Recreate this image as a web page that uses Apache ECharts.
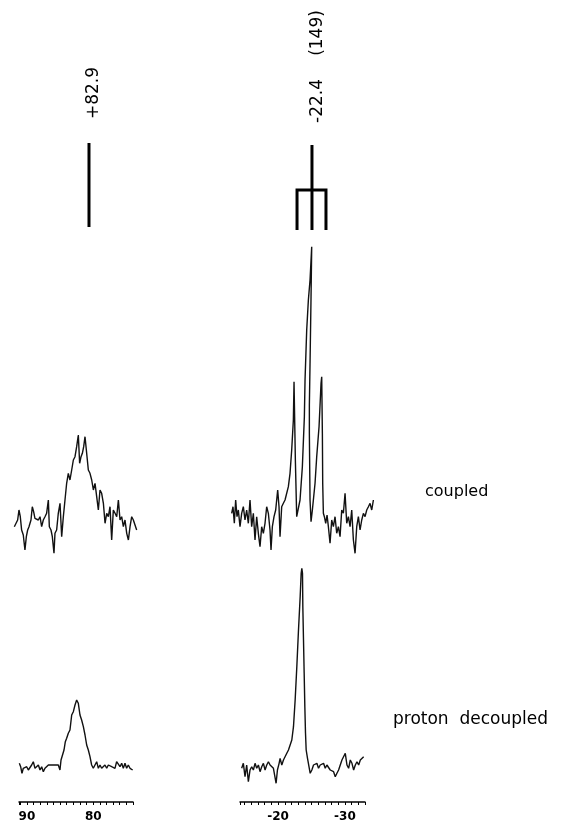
<!DOCTYPE html>
<html>
<head>
<meta charset="utf-8">
<script src="https://cdn.jsdelivr.net/npm/echarts@6/dist/echarts.min.js"></script>
<style>
html,body{margin:0;padding:0;background:#fff;}
#chart{width:562px;height:823px;}
</style>
</head>
<body>
<div id="chart"></div>
<script>
// ---- data (ppm, relative intensity) ----
var coupledLeftPpm = [91.90,91.70,91.40,91.20,91.00,90.80,90.55,90.30,90.09,89.89,89.69,89.39,89.19,88.99,88.79,88.53,88.28,88.03,87.78,87.53,87.28,87.03,86.77,86.62,86.37,86.17,85.92,85.77,85.52,85.27,85.01,84.76,84.51,84.26,84.01,83.76,83.51,83.25,83.00,82.75,82.50,82.25,82.05,81.84,81.64,81.44,81.24,80.99,80.74,80.49,80.23,79.98,79.73,79.48,79.23,78.98,78.73,78.47,78.22,77.97,77.72,77.47,77.22,76.97,76.71,76.46,76.21,75.96,75.71,75.46,75.21,74.95,74.70,74.45,74.20,73.95,73.70,73.45];
var coupledLeftInt = [-1.7,0,5,15,8.3,-5,-10,-25,-11.7,-5,-1.7,5,18.3,13.3,6.7,8.3,5,8.3,-1.7,5,8.3,11.7,25,-1.7,-5,-11.7,-28.3,-8.3,-5,11.7,21.7,-11.7,8.3,25,41.7,51.7,45,55,65,68.3,78.3,90,61.7,68.3,71.7,78.3,88.3,71.7,55,51.7,45,35,41.7,28.3,15,35,31.7,21.7,1.7,11.7,8.3,18.3,-15,15,11.7,8.3,25,5,8.3,-1.7,5,-8.3,-15,-1.7,8.3,5,5,-5];

var coupledRightPpm = [-13.05,-13.25,-13.45,-13.65,-13.85,-14.05,-14.30,-14.55,-14.80,-15.05,-15.30,-15.55,-15.80,-16.05,-16.30,-16.55,-16.80,-17.05,-17.30,-17.55,-17.80,-18.05,-18.30,-18.55,-18.80,-18.95,-19.15,-19.40,-19.65,-19.95,-20.15,-20.30,-20.55,-20.80,-21.05,-21.30,-21.55,-21.80,-22.05,-22.30,-22.40,-22.60,-22.80,-23.30,-23.65,-23.95,-24.05,-24.30,-24.55,-24.80,-25.05,-24.95,-24.80,-24.70,-24.70,-24.80,-24.95,-25.15,-25.30,-25.55,-25.80,-26.15,-26.45,-26.55,-26.65,-26.70,-26.80,-26.95,-27.15,-27.35,-27.55,-27.80,-28.05,-28.30,-28.55,-28.80,-29.05,-29.30,-29.55,-29.80,-30.05,-30.30,-30.55,-30.80,-31.05,-31.30,-31.55,-31.80,-32.05,-32.30,-32.55,-32.80,-33.05,-33.30,-33.55,-33.80,-34.05,-34.30];
var coupledRightInt = [6.7,13.3,-3.3,20,3.3,10,-6.7,6.7,13.3,0,10,-3.3,20,-6.7,6.7,-20,3.3,-13.3,-26.7,-6.7,-13.3,-3.3,13.3,6.7,-10,-30,-6.7,3.3,10,30,13.3,-16.7,13.3,16.7,20,21.7,33.3,46.7,70,100,138.3,60,3.3,20,53.3,103.3,140,190,220,240,273.3,223.3,156.7,115,86.7,20,-1.7,10,20,36.7,63.3,93.3,136.7,143.3,86.7,36.7,6.7,3.3,-3.3,5,-6.7,-23.3,0,-6.7,3.3,-13.3,-6.7,-16.7,10,6.7,26.7,-3.3,3.3,-6.7,10,-20,-33.3,-6.7,3.3,-10,0,6.7,3.3,10,13.3,16.7,10,20];

var decoupledLeftPpm = [91.15,90.95,90.75,90.55,90.30,90.04,89.79,89.54,89.29,89.04,88.79,88.53,88.28,88.03,87.78,87.53,87.28,87.03,86.77,86.52,86.27,86.02,85.77,85.52,85.27,85.02,84.86,84.66,84.41,84.21,84.01,83.76,83.51,83.25,83.00,82.75,82.50,82.25,82.00,81.75,81.49,81.24,80.99,80.74,80.49,80.24,79.99,79.74,79.48,79.23,78.98,78.73,78.48,78.23,77.97,77.72,77.47,77.22,76.97,76.72,76.47,76.21,75.96,75.71,75.46,75.21,74.96,74.71,74.45,74.20,74.05];
var decoupledLeftInt = [3.7,0.3,-6.3,-1.3,-3,0.3,-3,-1.3,2,5.3,-1.3,0.3,2,-3,0.3,-4.7,-1.3,0.3,2,0.3,2,0.3,2,0.3,2,-3,7,7,17,25.3,28.7,33.7,37,52,55.3,62,67,63.7,52,47,40.3,32,22,17,10.3,2,-1.3,0.3,5.3,-1.3,2,-1.3,0.3,2,-1.3,2,3.7,0.3,2,-1.3,5.3,7,0.3,3.7,-1.3,3.7,-1.3,2,-1.3,0.3,-3];

var decoupledRightPpm = [-14.55,-14.80,-15.05,-15.30,-15.55,-15.80,-16.05,-16.30,-16.55,-16.80,-17.05,-17.30,-17.55,-17.80,-18.05,-18.30,-18.55,-18.80,-19.05,-19.30,-19.55,-19.70,-19.90,-20.15,-20.30,-20.55,-20.80,-21.05,-21.30,-21.55,-21.80,-22.05,-22.30,-22.55,-22.80,-23.05,-23.30,-23.45,-23.55,-23.65,-23.70,-23.80,-23.90,-24.00,-24.10,-24.20,-24.40,-24.60,-24.80,-25.05,-25.30,-25.55,-25.80,-26.05,-26.30,-26.55,-26.80,-27.05,-27.30,-27.55,-27.80,-28.05,-28.30,-28.55,-28.80,-29.05,-29.30,-29.55,-29.80,-30.05,-30.30,-30.55,-30.80,-31.05,-31.30,-31.55,-31.80,-32.05,-32.30,-32.55,-32.80];
var decoupledRightInt = [-1.3,3.7,-9.7,2,-14.7,-3,0.3,-3,3.7,-1.3,2,-4.7,0.3,3.7,-3,2,5.3,2,3.7,-1.3,-3,-16.3,-3,3.7,8.7,2,7,8.7,13.7,17,18.7,27,40.3,67,100.3,137,170.3,193.7,198.7,193.7,160.3,127,93.7,60.3,33.7,17,8.7,7,-6.3,-3,2,0.3,3.7,-1.3,2,0.3,3.7,-1.3,2,0.3,-3,-1.3,-4.7,-9.7,-6.3,-3,2,7,5.3,13.7,2,-1.3,7,3.7,-3,2,5.3,2,7,5.3,10.3];

// stick diagrams (ppm positions, intensity span)
var singletPpm = 80.64;
var singletSpan = [298, 382];
var quartetStemPpm = -25.09;
var quartetStemSpan = [290, 375];
var quartetOuterPpm = [-22.85, -27.19];
var quartetBar = 330;
var quartetFoot = 290;

// axis tick labels
var leftTickLabels = [90, 80];
var rightTickLabels = [-20, -30];

function zip(xs, ys){ return xs.map(function(x,i){ return [x, ys[i]]; }); }

var chart = echarts.init(document.getElementById('chart'), null, {renderer:'canvas'});
var FONT = '"DejaVu Sans", "Liberation Sans", Arial, sans-serif';

function hiddenX(idx, min, max){
  return {gridIndex: idx, type:'value', min:min, max:max, inverse:true, show:false};
}
function hiddenY(idx, min, max){
  return {gridIndex: idx, type:'value', min:min, max:max, show:false};
}
function shownX(idx, min, max, labels){
  return {gridIndex: idx, type:'value', min:min, max:max, inverse:true, interval:1,
    axisLine:{show:true, onZero:false, lineStyle:{color:'#000', width:1.5}},
    axisTick:{show:true, length:3, lineStyle:{color:'#000', width:1}},
    splitLine:{show:false},
    axisLabel:{show:true, margin:9, color:'#000', fontSize:12, fontWeight:'bold', fontFamily:FONT,
      formatter:function(v){ return labels.indexOf(Math.round(v)) >= 0 && Math.abs(v-Math.round(v))<1e-6 ? String(Math.round(v)) : ''; }}
  };
}
var lineSty = {color:'#111', width:1.4};

var option = {
  animation:false,
  backgroundColor:'#fff',
  grid:[
    {left:14, top:140, width:123, height:420},
    {left:231, top:140, width:143, height:430},
    {left:19, top:680, width:114, height:122},
    {left:240, top:550, width:125, height:252}
  ],
  xAxis:[
    hiddenX(0, 73.4, 91.95),
    hiddenX(1, -34.39, -12.95),
    shownX(2, 74, 91.2, leftTickLabels),
    shownX(3, -33, -14.3, rightTickLabels)
  ],
  yAxis:[
    hiddenY(0, -35, 385),
    hiddenY(1, -50, 380),
    hiddenY(2, -35, 87),
    hiddenY(3, -35, 217)
  ],
  series:[
    {type:'line', xAxisIndex:0, yAxisIndex:0, data:zip(coupledLeftPpm, coupledLeftInt), showSymbol:false, symbol:'none', lineStyle:lineSty, clip:false},
    {type:'line', xAxisIndex:1, yAxisIndex:1, data:zip(coupledRightPpm, coupledRightInt), showSymbol:false, symbol:'none', lineStyle:lineSty, clip:false},
    {type:'line', xAxisIndex:2, yAxisIndex:2, data:zip(decoupledLeftPpm, decoupledLeftInt), showSymbol:false, symbol:'none', lineStyle:lineSty, clip:false},
    {type:'line', xAxisIndex:3, yAxisIndex:3, data:zip(decoupledRightPpm, decoupledRightInt), showSymbol:false, symbol:'none', lineStyle:lineSty, clip:false},
    {type:'line', xAxisIndex:0, yAxisIndex:0, data:[[singletPpm, singletSpan[0]],[singletPpm, singletSpan[1]]], symbol:'none', lineStyle:{color:'#000', width:3, cap:'butt'}, clip:false},
    {type:'line', xAxisIndex:1, yAxisIndex:1, data:[[quartetStemPpm, quartetStemSpan[0]],[quartetStemPpm, quartetStemSpan[1]]], symbol:'none', lineStyle:{color:'#000', width:3, cap:'butt'}, clip:false},
    {type:'line', xAxisIndex:1, yAxisIndex:1, data:[[quartetOuterPpm[0], quartetFoot],[quartetOuterPpm[0], quartetBar],[quartetOuterPpm[1], quartetBar],[quartetOuterPpm[1], quartetFoot]], symbol:'none', lineStyle:{color:'#000', width:3, cap:'butt', join:'miter'}, clip:false}
  ],
  graphic:[
    {type:'text', x:94, y:93, rotation:Math.PI/2, style:{text:'+82.9', font:'17px '+FONT, fill:'#000', align:'center', verticalAlign:'middle'}},
    {type:'text', x:318, y:101, rotation:Math.PI/2, style:{text:'-22.4', font:'17px '+FONT, fill:'#000', align:'center', verticalAlign:'middle'}},
    {type:'text', x:318, y:33, rotation:Math.PI/2, style:{text:'(149)', font:'17px '+FONT, fill:'#000', align:'center', verticalAlign:'middle'}},
    {type:'text', x:425, y:492, style:{text:'coupled', font:'16px '+FONT, fill:'#000', align:'left', verticalAlign:'middle'}},
    {type:'text', x:393, y:720, style:{text:'proton  decoupled', font:'17px '+FONT, fill:'#000', align:'left', verticalAlign:'middle'}}
  ]
};
chart.setOption(option);
</script>
</body>
</html>
